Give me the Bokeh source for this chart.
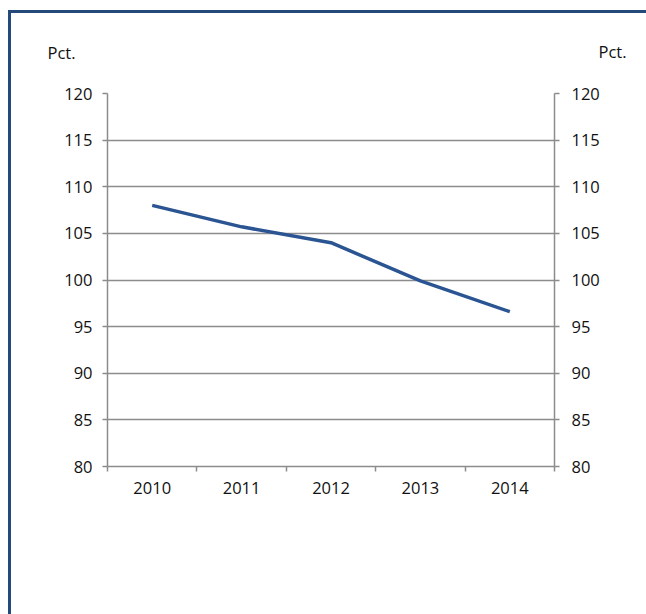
from bokeh.plotting import figure
from bokeh.models import (Range1d, LinearAxis, FixedTicker, Grid, Title)
from bokeh.embed import file_html
from bokeh.resources import INLINE

years = ["2010", "2011", "2012", "2013", "2014"]
values = [108.0, 105.7, 104.0, 99.9, 96.6]
y_ticks = [80, 85, 90, 95, 100, 105, 110, 115, 120]
unit_label = "Pct."

FONT = "Open Sans"
FS = "16.5px"
GRID = "#8c8c8c"
BLUE = "#2b5592"
FRAME_BLUE = "#244a7c"

xs = [i + 0.5 for i in range(len(years))]

p = figure(frame_width=447, frame_height=373,
           min_border_left=96, min_border_right=92, min_border_top=80,
           min_border_bottom=148, output_backend="svg", toolbar_location=None,
           x_range=Range1d(0, len(years)), y_range=Range1d(y_ticks[0], y_ticks[-1]),
           x_axis_type=None, y_axis_type=None)
p.outline_line_color = None
p.background_fill_color = "white"
p.border_fill_color = "white"
p.styles = {"border-left": "3px solid " + FRAME_BLUE,
            "border-top": "3px solid " + FRAME_BLUE,
            "margin-left": "8px", "margin-top": "10px"}

xt = FixedTicker(ticks=xs, minor_ticks=list(range(len(years) + 1)))
xaxis = LinearAxis(ticker=xt)
xaxis.major_label_overrides = {x: y for x, y in zip(xs, years)}
xaxis.major_tick_out = 0
xaxis.major_tick_in = 0
xaxis.minor_tick_out = 5
xaxis.minor_tick_in = 0
xaxis.minor_tick_line_color = GRID
xaxis.minor_tick_line_width = 1.5
xaxis.axis_line_color = GRID
xaxis.axis_line_width = 1.5
xaxis.major_label_standoff = 10
xaxis.major_label_text_font = FONT
xaxis.major_label_text_font_size = FS
xaxis.major_label_text_color = "#111111"
p.add_layout(xaxis, "below")

yt = FixedTicker(ticks=y_ticks, minor_ticks=[])
for side in ("left", "right"):
    ax = LinearAxis(ticker=yt)
    ax.major_tick_out = 5
    ax.major_tick_in = 0
    ax.major_tick_line_color = GRID
    ax.major_tick_line_width = 1.5
    ax.axis_line_color = GRID
    ax.axis_line_width = 1.5
    ax.major_label_standoff = 10 if side == "left" else 12
    ax.major_label_text_font = FONT
    ax.major_label_text_font_size = FS
    ax.major_label_text_color = "#111111"
    p.add_layout(ax, side)

p.add_layout(Grid(dimension=1, ticker=yt, grid_line_color=GRID,
                  grid_line_width=1.5))

p.line(xs, values, line_color=BLUE, line_width=3.5)

p.add_layout(Title(text=unit_label, align="left", offset=-60, standoff=55,
                   vertical_align="top",
                   text_font=FONT, text_font_size=FS, text_font_style="normal",
                   text_color="#111111"), "above")
p.add_layout(Title(text=unit_label, align="right", offset=-72, standoff=-98,
                   text_font=FONT, text_font_size=FS, text_font_style="normal",
                   text_color="#111111"), "above")

open("out.html", "w").write(file_html(p, INLINE))
